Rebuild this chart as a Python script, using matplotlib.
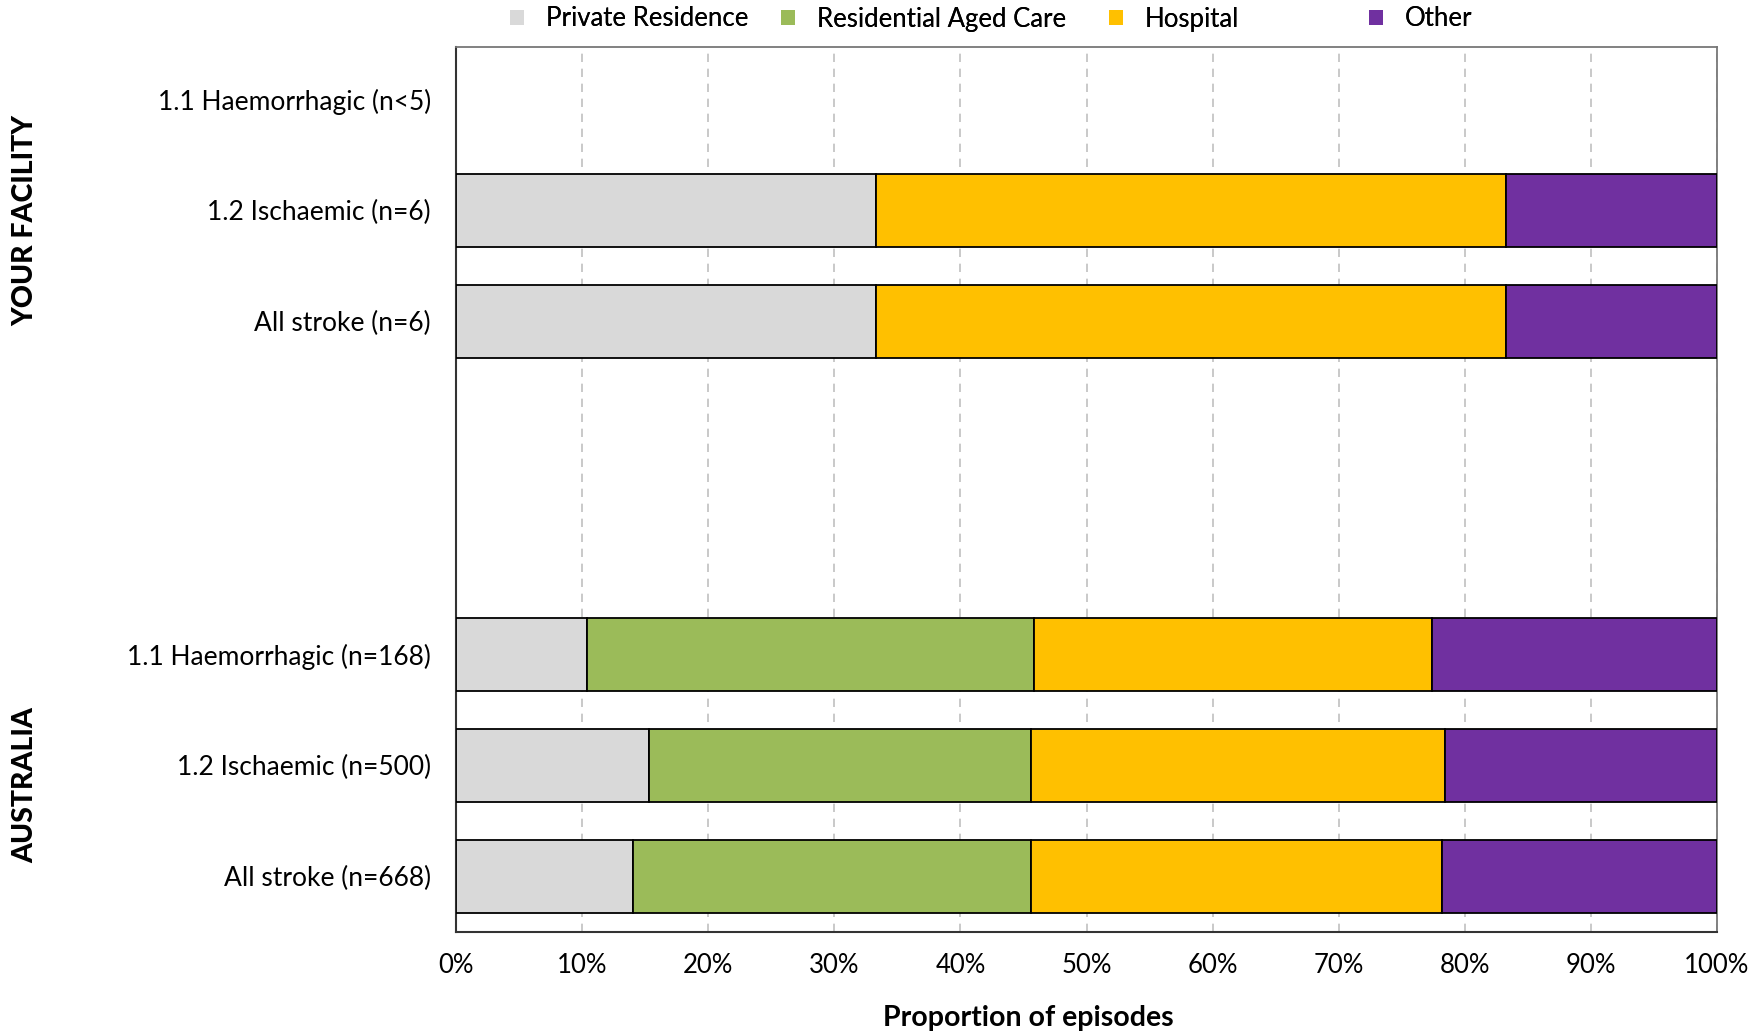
import numpy as np
import matplotlib
matplotlib.use("Agg")
import matplotlib.pyplot as plt
from matplotlib.patches import Patch

plt.rcParams["font.family"] = ["Lato", "DejaVu Sans"]

# Etiquetas de filas (de arriba hacia abajo) y su posición en el eje y
etiquetas = [
    "1.1 Haemorrhagic (n<5)",
    "1.2 Ischaemic (n=6)",
    "All stroke (n=6)",
    "1.1 Haemorrhagic (n=168)",
    "1.2 Ischaemic (n=500)",
    "All stroke (n=668)",
]
posiciones = [0, 1, 2, 5, 6, 7]

categorias = ["Private Residence", "Residential Aged Care", "Hospital", "Other"]
colores = ["#D9D9D9", "#9BBB59", "#FFC000", "#7030A0"]

# Porcentajes por categoría (NaN = dato suprimido, n<5)
private_residence = [np.nan, 33.3, 33.3, 10.4, 15.3, 14.0]
aged_care = [np.nan, 0.0, 0.0, 35.4, 30.3, 31.6]
hospital = [np.nan, 50.0, 50.0, 31.6, 32.8, 32.6]
other = [np.nan, 16.7, 16.7, 22.6, 21.6, 21.8]

grupos = ["YOUR FACILITY", "AUSTRALIA"]
ticks_x = [0, 10, 20, 30, 40, 50, 60, 70, 80, 90, 100]


def graficar() -> None:
    fig = plt.figure(figsize=(17.65, 10.36), dpi=100)
    ax = fig.add_axes([0.2584, 0.1004, 0.7144, 0.8542])

    series = [private_residence, aged_care, hospital, other]
    izquierda = np.zeros(len(etiquetas))
    for valores, color, nombre in zip(series, colores, categorias):
        valores = np.array(valores, dtype=float)
        mask = ~np.isnan(valores)
        ax.barh(np.array(posiciones)[mask], valores[mask], left=izquierda[mask],
                height=0.66, color=color, edgecolor="black", linewidth=1.3,
                label=nombre, zorder=3)
        izquierda = izquierda + np.nan_to_num(valores)

    ax.set_xlim(0, 100)
    ax.set_ylim(7.5, -0.47)
    ax.set_yticks(posiciones)
    ax.set_yticklabels(etiquetas, fontsize=19)
    ax.set_xticks(ticks_x)
    ax.set_xticklabels([f"{t}%" for t in ticks_x], fontsize=18.5)
    ax.tick_params(axis="y", length=0, pad=18)
    ax.tick_params(axis="x", length=0, pad=15)
    ax.set_xlabel("Proportion of episodes", fontsize=20.5, fontweight="bold", labelpad=22)
    ax.xaxis.set_label_coords(0.4536, -0.082)

    ax.grid(True, axis="x", color="#C0C0C0", linestyle=(0, (5, 4)), linewidth=1.2, zorder=0)
    ax.set_axisbelow(True)
    for lado in ["left", "bottom"]:
        ax.spines[lado].set_color("#333333")
        ax.spines[lado].set_linewidth(1.5)
    for lado in ["top", "right"]:
        ax.spines[lado].set_color("#777777")
        ax.spines[lado].set_linewidth(1.3)

    # Etiquetas de grupo verticales
    fig.text(0.0145, 1 - 221 / 1036, grupos[0], rotation=90, fontsize=20.5,
             fontweight="black", ha="center", va="center")
    fig.text(0.0145, 1 - 785 / 1036, grupos[1], rotation=90, fontsize=20.5,
             fontweight="black", ha="center", va="center")

    # Leyenda: un elemento por categoría en posiciones fijas
    x_leyenda = [510, 781, 1109, 1369]
    for nombre, color, x in zip(categorias, colores, x_leyenda):
        leyenda = fig.legend(handles=[Patch(facecolor=color, edgecolor="none")],
                             labels=[nombre], loc="center left",
                             bbox_to_anchor=(x / 1765, 1 - 19 / 1036),
                             frameon=False, fontsize=18.5, borderpad=0,
                             borderaxespad=0, handlelength=0.55,
                             handleheight=0.55, handletextpad=0.85)
        fig.add_artist(leyenda)

    fig.savefig("out.png", dpi=100)
    plt.close(fig)


if __name__ == "__main__":
    graficar()
